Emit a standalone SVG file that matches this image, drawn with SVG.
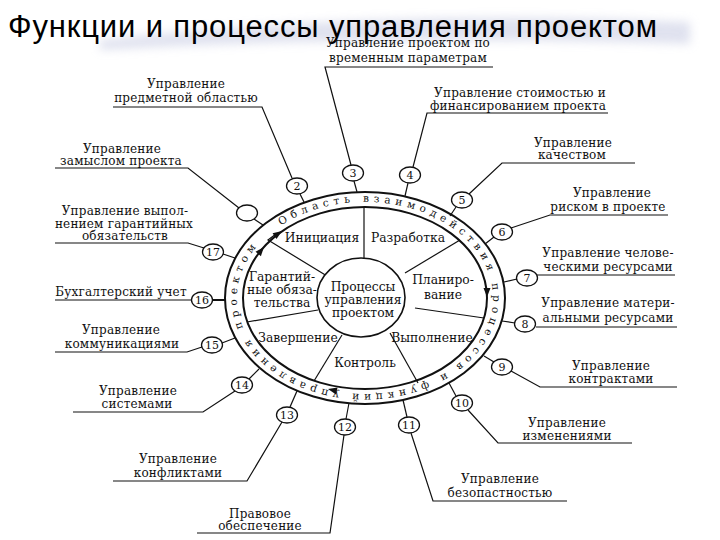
<svg xmlns="http://www.w3.org/2000/svg" width="720" height="540" viewBox="0 0 720 540">
<defs>
<style>
.lbl{font-size:12px;letter-spacing:0.2px;fill:#111;text-anchor:middle}
.ph{font-size:12.3px;fill:#111;text-anchor:middle}
.num{font-size:11px;fill:#111;text-anchor:middle}
.ring{font-size:10.5px;letter-spacing:4.7px;fill:#111}
.ln{stroke:#111;stroke-width:1.2;fill:none}
.thick{stroke:#111;stroke-width:2;fill:none}
.nc{fill:#fff;stroke:#111;stroke-width:1.3}
</style>
<filter id="blur" x="-10%" y="-50%" width="120%" height="200%"><feGaussianBlur stdDeviation="5"/></filter>
<path id="ah" d="M0,0 L-9,-3.5 L-9,3.5 Z" fill="#111"/>
<path id="ringPath" d="M281,225.5 A128,96 0 1,1 449,370.5 A128,96 0 1,1 281,225.5"/>
</defs>
<rect width="720" height="540" fill="#fff"/>
<path d="M100,40 Q380,8 690,22 L690,44 Q380,34 100,50 Z" fill="#c6cae2" opacity="0.55" filter="url(#blur)"/>
<text x="8" y="37" font-family="'Liberation Sans',Arial,sans-serif" font-size="31" fill="#000" textLength="649" lengthAdjust="spacing">Функции и процессы управления проектом</text>

<g id="connectors">
<line class="ln" x1="254" y1="219" x2="263" y2="225"/>
<line class="ln" x1="300" y1="194" x2="304" y2="202"/>
<line class="ln" x1="354" y1="181" x2="357" y2="192"/>
<line class="ln" x1="408" y1="183" x2="405" y2="196"/>
<line class="ln" x1="456" y1="207" x2="450" y2="216"/>
<line class="ln" x1="494" y1="237" x2="485" y2="244"/>
<line class="ln" x1="517" y1="279" x2="504" y2="282"/>
<line class="ln" x1="515" y1="323" x2="502" y2="321"/>
<line class="ln" x1="494" y1="362" x2="484" y2="356"/>
<line class="ln" x1="456" y1="396" x2="449" y2="383"/>
<line class="ln" x1="407" y1="417" x2="403" y2="400"/>
<line class="ln" x1="346" y1="419" x2="349" y2="403"/>
<line class="ln" x1="290" y1="407" x2="297" y2="391"/>
<line class="ln" x1="249" y1="379" x2="259" y2="369"/>
<line class="ln" x1="222" y1="343" x2="235" y2="338"/>
<line class="thick" x1="212" y1="300" x2="225" y2="300"/>
<line class="ln" x1="223" y1="254" x2="235" y2="258"/>
<polyline class="ln" points="55,168 188,168 239,208"/>
<polyline class="ln" points="113,107 262,107 292,178"/>
<polyline class="ln" points="493,67 325,67 351,165"/>
<polyline class="ln" points="608,113 427,113 413,167"/>
<polyline class="ln" points="635,163 502,163 469,194"/>
<polyline class="ln" points="668,215 550,215 511,228"/>
<line class="ln" x1="536" y1="275" x2="675" y2="275"/>
<line class="ln" x1="536" y1="327" x2="677" y2="327"/>
<polyline class="ln" points="511,371 540,387 677,387"/>
<polyline class="ln" points="468,410 498,443 632,443"/>
<polyline class="ln" points="411,433 433,501 567,501"/>
<polyline class="ln" points="344,435 330,533 197,533"/>
<polyline class="ln" points="282,422 247,481 113,481"/>
<polyline class="ln" points="235,391 203,412 73,412"/>
<polyline class="ln" points="202,347 187,352 55,352"/>
<line class="ln" x1="55" y1="300" x2="192" y2="300"/>
<polyline class="ln" points="204,248 188,243 55,243"/>
</g>

<g font-family="'DejaVu Serif',serif">
<g id="wheel">
<ellipse cx="365" cy="298" rx="140" ry="106" fill="none" stroke="#111" stroke-width="2"/>
<ellipse cx="365" cy="298" rx="122" ry="91" fill="none" stroke="#111" stroke-width="2"/>
<text class="ring"><textPath href="#ringPath">Область взаимодействия процессов и функций управления проектом</textPath></text>
<use href="#ah" transform="translate(264,247) rotate(-50)"/>
<use href="#ah" transform="translate(487,297) rotate(90)"/>
<use href="#ah" transform="translate(328,389) rotate(-167)"/>
</g>

<g id="spokes">
<line class="ln" x1="364" y1="258" x2="364" y2="207"/>
<line class="ln" x1="405" y1="273" x2="460" y2="240"/>
<line class="ln" x1="415" y1="308" x2="484" y2="318"/>
<line class="ln" x1="390" y1="333" x2="418" y2="383"/>
<line class="ln" x1="342" y1="335" x2="314" y2="381"/>
<line class="ln" x1="318" y1="310" x2="247" y2="322"/>
<polyline class="ln" points="327,276 268,240 276,234"/>
<use href="#ah" transform="translate(282,231) rotate(-34)"/>
</g>

<g id="center">
<ellipse cx="361" cy="297.5" rx="44" ry="39.5" fill="#fff" stroke="#111" stroke-width="1.6"/>
<text class="ph" x="363" y="291">Процессы</text>
<text class="ph" x="363" y="304">управления</text>
<text class="ph" x="363" y="317">проектом</text>
</g>

<g id="phases">
<text class="ph" x="322" y="242">Инициация</text>
<text class="ph" x="408" y="242">Разработка</text>
<text class="ph" x="443" y="284">Планиро-</text>
<text class="ph" x="443" y="299">вание</text>
<text class="ph" x="432" y="342">Выполнение</text>
<text class="ph" x="365" y="367">Контроль</text>
<text class="ph" x="298" y="342">Завершение</text>
<text class="ph" x="282" y="281">Гарантий-</text>
<text class="ph" x="282" y="294">ные обяза-</text>
<text class="ph" x="282" y="307">тельства</text>
</g>

<g id="n1"><ellipse class="nc" cx="247" cy="213" rx="10.5" ry="8"/>
<text class="lbl" x="122" y="153">Управление</text><text class="lbl" x="121" y="165">замыслом проекта</text></g>
<g id="n2"><ellipse class="nc" cx="297" cy="186" rx="10.5" ry="8"/><text class="num" x="297" y="190">2</text>
<text class="lbl" x="186" y="88">Управление</text><text class="lbl" x="186" y="102">предметной областью</text></g>
<g id="n3"><ellipse class="nc" cx="353" cy="173" rx="10.5" ry="8"/><text class="num" x="353" y="177">3</text>
<text class="lbl" x="408" y="47">Управление проектом по</text><text class="lbl" x="408" y="62">временным параметрам</text></g>
<g id="n4"><ellipse class="nc" cx="410" cy="175" rx="10.5" ry="8"/><text class="num" x="410" y="179">4</text>
<text class="lbl" x="520" y="97">Управление стоимостью и</text><text class="lbl" x="518" y="110">финансированием проекта</text></g>
<g id="n5"><ellipse class="nc" cx="462" cy="200" rx="10.5" ry="8"/><text class="num" x="462" y="204">5</text>
<text class="lbl" x="573" y="147">Управление</text><text class="lbl" x="572" y="159">качеством</text></g>
<g id="n6"><ellipse class="nc" cx="502" cy="232" rx="10.5" ry="8"/><text class="num" x="502" y="236">6</text>
<text class="lbl" x="612" y="197">Управление</text><text class="lbl" x="608" y="211">риском в проекте</text></g>
<g id="n7"><ellipse class="nc" cx="527" cy="278" rx="10.5" ry="8"/><text class="num" x="527" y="282">7</text>
<text class="lbl" x="608" y="257">Управление челове-</text><text class="lbl" x="608" y="271">ческими ресурсами</text></g>
<g id="n8"><ellipse class="nc" cx="525" cy="324" rx="10.5" ry="8"/><text class="num" x="525" y="328">8</text>
<text class="lbl" x="608" y="307">Управление матери-</text><text class="lbl" x="608" y="322">альными ресурсами</text></g>
<g id="n9"><ellipse class="nc" cx="502" cy="367" rx="10.5" ry="8"/><text class="num" x="502" y="371">9</text>
<text class="lbl" x="611" y="370">Управление</text><text class="lbl" x="611" y="383">контрактами</text></g>
<g id="n10"><ellipse class="nc" cx="462" cy="403" rx="10.5" ry="8"/><text class="num" x="462" y="407">10</text>
<text class="lbl" x="567" y="427">Управление</text><text class="lbl" x="567" y="440">изменениями</text></g>
<g id="n11"><ellipse class="nc" cx="409" cy="425" rx="10.5" ry="8"/><text class="num" x="409" y="429">11</text>
<text class="lbl" x="500" y="483">Управление</text><text class="lbl" x="500" y="497">безопастностью</text></g>
<g id="n12"><ellipse class="nc" cx="345" cy="427" rx="10.5" ry="8"/><text class="num" x="345" y="431">12</text>
<text class="lbl" x="260" y="518">Правовое</text><text class="lbl" x="260" y="530">обеспечение</text></g>
<g id="n13"><ellipse class="nc" cx="287" cy="415" rx="10.5" ry="8"/><text class="num" x="287" y="419">13</text>
<text class="lbl" x="178" y="463">Управление</text><text class="lbl" x="178" y="477">конфликтами</text></g>
<g id="n14"><ellipse class="nc" cx="242" cy="385" rx="10.5" ry="8"/><text class="num" x="242" y="389">14</text>
<text class="lbl" x="138" y="395">Управление</text><text class="lbl" x="137" y="408">системами</text></g>
<g id="n15"><ellipse class="nc" cx="212" cy="345" rx="10.5" ry="8"/><text class="num" x="212" y="349">15</text>
<text class="lbl" x="121" y="334">Управление</text><text class="lbl" x="122" y="348">коммуникациями</text></g>
<g id="n16"><ellipse class="nc" cx="202" cy="300" rx="10.5" ry="8"/><text class="num" x="202" y="304">16</text>
<text class="lbl" x="121" y="296">Бухгалтерский учет</text></g>
<g id="n17"><ellipse class="nc" cx="213" cy="252" rx="10.5" ry="8"/><text class="num" x="213" y="256">17</text>
<text class="lbl" x="125" y="215">Управление выпол-</text><text class="lbl" x="124" y="228">нением гарантийных</text><text class="lbl" x="125" y="240">обязательств</text></g>
</g>
</svg>
